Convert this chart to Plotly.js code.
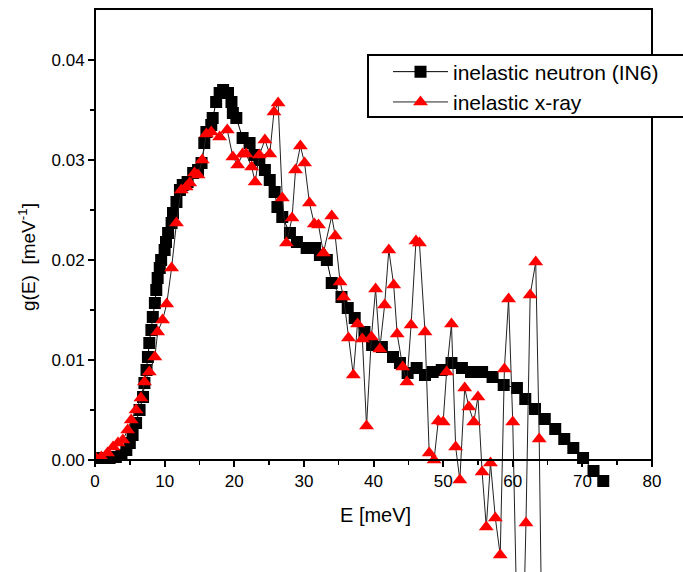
<!DOCTYPE html>
<html>
<head>
<meta charset="utf-8">
<script src="https://cdn.plot.ly/plotly-3.0.1.min.js"></script>
<style>html,body{margin:0;padding:0;background:#fff}#chart{width:683px;height:572px}</style>
</head>
<body>
<div id="chart"></div>
<script>
// inelastic neutron (IN6)
const neutronE = [0.2, 1.1, 2.1, 3.0, 3.8, 4.5, 5.0, 5.4, 5.9, 6.4,
  6.9, 7.1, 7.4, 7.6, 7.8, 8.1, 8.3, 8.6, 8.8, 9.0,
  9.3, 9.5, 10.0, 10.2, 10.5, 11.0, 11.2, 11.7, 12.2, 12.6,
  13.3, 14.1, 14.8, 15.3, 15.7, 16.0, 16.7, 16.9, 17.4, 17.9,
  18.4, 19.1, 19.6, 19.8, 20.3, 21.2, 22.2, 22.9, 23.6, 24.4,
  25.1, 25.8, 26.2, 26.9, 28.0, 29.0, 30.4, 31.6, 32.3, 33.3,
  34.0, 35.4, 36.3, 37.3, 38.7, 39.8, 41.2, 42.8, 43.8, 44.9,
  46.2, 47.4, 48.5, 49.8, 51.2, 52.7, 54.0, 55.6, 57.1, 58.7,
  60.6, 61.8, 63.2, 64.6, 66.1, 67.4, 68.7, 70.1, 71.6, 73.0];
const neutronG = [0.0002, 0.0002, 0.0002, 0.0003, 0.0005, 0.0010, 0.0017, 0.0025, 0.0037, 0.0050,
  0.0063, 0.0077, 0.0090, 0.0103, 0.0117, 0.0130, 0.0143, 0.0157, 0.0170, 0.0182,
  0.0192, 0.0200, 0.0210, 0.0218, 0.0227, 0.0237, 0.0247, 0.0258, 0.0270, 0.0275,
  0.0278, 0.0287, 0.0290, 0.0297, 0.0317, 0.0328, 0.0335, 0.0342, 0.0358, 0.0367,
  0.0370, 0.0367, 0.0358, 0.0347, 0.0342, 0.0322, 0.0317, 0.0305, 0.0300, 0.0290,
  0.0280, 0.0268, 0.0253, 0.0243, 0.0227, 0.0218, 0.0212, 0.0212, 0.0205, 0.0200,
  0.0177, 0.0163, 0.0152, 0.0142, 0.0128, 0.0115, 0.0113, 0.0103, 0.0097, 0.0087,
  0.0092, 0.0085, 0.0088, 0.0090, 0.0097, 0.0092, 0.0088, 0.0088, 0.0083, 0.0075,
  0.0072, 0.0061, 0.0051, 0.0041, 0.0031, 0.0021, 0.0012, 0.0002, -0.0011, -0.0021];

// inelastic x-ray
const xrayE = [0.0, 0.9, 1.8, 2.6, 3.3, 4.0, 4.7, 5.2, 5.9, 6.6,
  7.1, 7.8, 8.6, 9.0, 9.7, 10.3, 11.0, 11.7, 12.4, 13.1,
  13.6, 14.3, 14.8, 15.4, 16.0, 16.7, 17.9, 19.0, 19.8, 20.5,
  21.2, 21.7, 22.5, 23.0, 23.6, 24.4, 25.1, 25.7, 26.3, 26.9,
  27.5, 28.3, 28.8, 29.5, 30.1, 30.8, 31.5, 32.1, 32.8, 34.0,
  34.5, 35.2, 35.7, 36.4, 37.1, 37.7, 38.4, 39.0, 39.7, 40.3,
  40.9, 41.6, 42.2, 42.9, 43.4, 44.2, 44.8, 45.4, 46.1, 46.6,
  47.4, 48.0, 48.7, 49.3, 50.0, 50.5, 51.2, 51.8, 52.4, 53.1,
  53.7, 54.4, 55.0, 55.6, 56.2, 56.8, 57.5, 58.2, 58.8, 59.4,
  60.0, 60.6, 61.3, 61.9, 62.5, 63.3, 63.8, 64.5];
const xrayG = [0.0003, 0.0003, 0.0007, 0.0013, 0.0017, 0.0020, 0.0030, 0.0040, 0.0050, 0.0062,
  0.0078, 0.0088, 0.0103, 0.0128, 0.0140, 0.0156, 0.0192, 0.0237, 0.0270, 0.0273,
  0.0277, 0.0287, 0.0285, 0.0300, 0.0326, 0.0328, 0.0323, 0.0330, 0.0303, 0.0295,
  0.0306, 0.0306, 0.0293, 0.0278, 0.0305, 0.0320, 0.0306, 0.0348, 0.0357, 0.0262,
  0.0217, 0.0242, 0.0290, 0.0314, 0.0297, 0.0257, 0.0236, 0.0235, 0.0207, 0.0244,
  0.0224, 0.0178, 0.0163, 0.0122, 0.0085, 0.0136, 0.0121, 0.0034, 0.0123, 0.0171,
  0.0111, 0.0155, 0.0210, 0.0175, 0.0126, 0.0093, 0.0078, 0.0135, 0.0219, 0.0217,
  0.0128, 0.0007, 0.0000, 0.0039, 0.0038, 0.0088, 0.0136, 0.0013, -0.0020, 0.0072,
  0.0053, 0.0038, 0.0063, -0.0012, -0.0067, -0.0003, -0.0058, -0.0095, 0.0091, 0.0161,
  0.0038, -0.016, -0.024, -0.0063, 0.0165, 0.0198, 0.0021, -0.035];

const seriesNames = ['inelastic neutron (IN6)', 'inelastic x-ray'];
const xTickVals = [0, 10, 20, 30, 40, 50, 60, 70, 80];
const yTickVals = [0, 0.01, 0.02, 0.03, 0.04];
const yTickText = ['0.00', '0.01', '0.02', '0.03', '0.04'];
const yMinorVals = [0.005, 0.015, 0.025, 0.035];
const xTitle = 'E [meV]';
const yTitle = 'g(E)  [meV<sup>-1</sup>]';

const FONT = 'Liberation Sans, Arial, sans-serif';
const W = 557, H = 563, L = 95, T = 9;
const px = v => (v - L) / W;           // pixel x -> paper
const py = v => (T + H - v) / H;       // pixel y -> paper
const axisPos = py(460);

const traces = [
  {x: neutronE, y: neutronG, name: seriesNames[0], type: 'scatter', mode: 'lines+markers',
   line: {color: '#000', width: 1}, marker: {symbol: 'square', size: 12, color: '#000'}},
  {x: xrayE, y: xrayG, name: seriesNames[1], type: 'scatter', mode: 'lines+markers',
   line: {color: '#222', width: 1}, marker: {symbol: 'triangle-up', size: 13, color: '#ff0000'}}
];

const layout = {
  width: 683, height: 572,
  margin: {l: L, r: 683 - L - W, t: T, b: 0, pad: 0},
  paper_bgcolor: '#fff', plot_bgcolor: '#fff',
  font: {family: FONT, color: '#000', size: 17},
  showlegend: true,
  legend: {x: px(388), y: py(51.5), xanchor: 'left', yanchor: 'top',
    bgcolor: 'rgba(0,0,0,0)', borderwidth: 0, font: {family: FONT, size: 21, color: '#000'},
    itemwidth: 55, tracegroupgap: 0},
  xaxis: {range: [0, 80], anchor: 'free', position: axisPos, showline: true, linewidth: 2, linecolor: '#000',
    ticks: 'outside', tickmode: 'array', tickvals: xTickVals, ticklen: 6, tickwidth: 2, tickcolor: '#000',
    minor: {ticks: 'outside', dtick: 5, ticklen: 4, tickwidth: 1.5, tickcolor: '#000'},
    showgrid: false, zeroline: false, tickfont: {family: FONT, size: 17}, fixedrange: true},
  yaxis: {range: [-0.0112, 0.0451], domain: [0, 1], showline: false,
    ticks: 'outside', tickmode: 'array', tickvals: yTickVals, ticktext: yTickText, ticklen: 6, tickwidth: 2, tickcolor: '#000',
    minor: {ticks: 'outside', tickmode: 'array', tickvals: yMinorVals, ticklen: 4, tickwidth: 1.5, tickcolor: '#000'},
    showgrid: false, zeroline: false, tickfont: {family: FONT, size: 17}, fixedrange: true},
  shapes: [
    {type: 'rect', xref: 'paper', yref: 'paper', x0: 0, x1: 1, y0: axisPos, y1: 1,
     line: {color: '#000', width: 2}, fillcolor: 'rgba(0,0,0,0)', layer: 'above'},
    {type: 'rect', xref: 'paper', yref: 'paper', x0: px(368), x1: px(692), y0: py(117), y1: py(55),
     line: {color: '#000', width: 2}, fillcolor: '#fff', layer: 'above'}
  ],
  annotations: [
    {text: xTitle, xref: 'paper', yref: 'paper', x: px(375), y: py(515),
     xanchor: 'center', yanchor: 'middle', showarrow: false, font: {family: FONT, size: 20}},
    {text: yTitle, xref: 'paper', yref: 'paper', x: px(27), y: py(257),
     xanchor: 'center', yanchor: 'middle', textangle: -90, showarrow: false, font: {family: FONT, size: 19}}
  ]
};

Plotly.newPlot('chart', traces, layout, {displayModeBar: false, staticPlot: true});
</script>
</body>
</html>
